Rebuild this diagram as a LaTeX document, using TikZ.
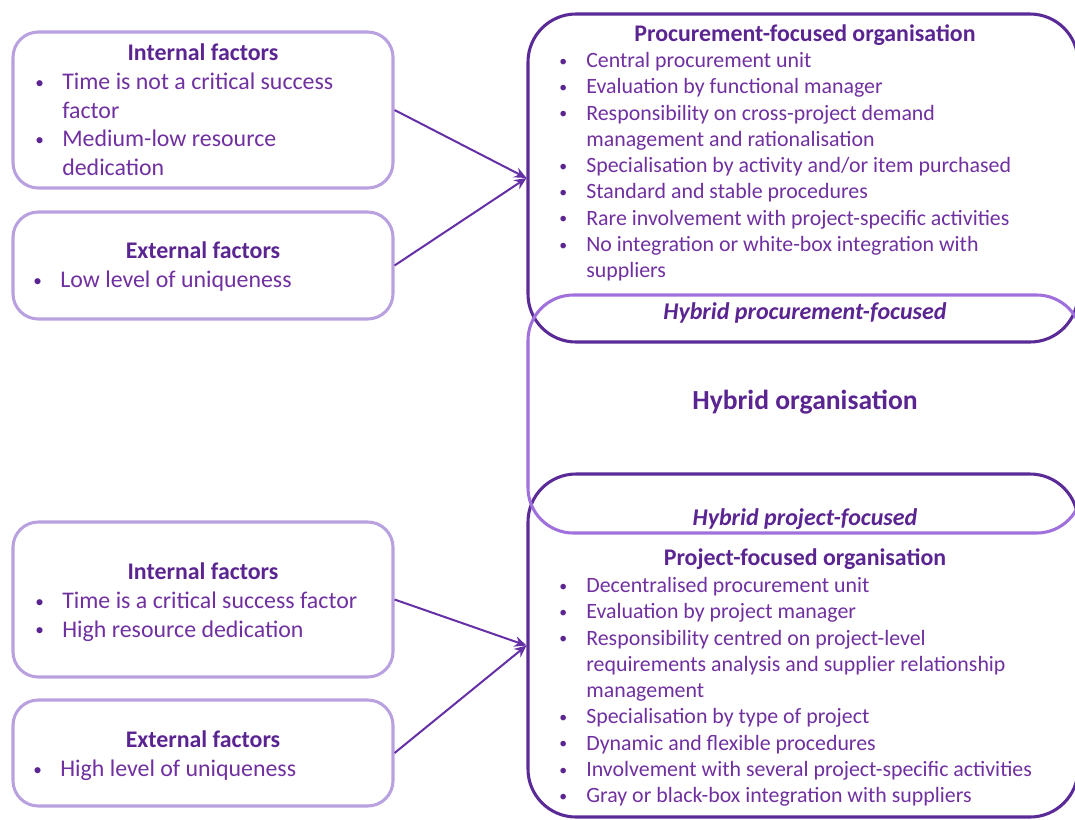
\documentclass[tikz,border=0pt]{standalone}
\usepackage{fontspec}
\setmainfont{Carlito}
\usetikzlibrary{arrows.meta}

\definecolor{darkedge}{HTML}{5A2A96}
\definecolor{lightedge}{HTML}{A070DC}
\definecolor{paleedge}{HTML}{B9A1E0}
\definecolor{bodytext}{HTML}{7030A0}
\definecolor{headtext}{HTML}{5B2591}
\definecolor{arrowcol}{HTML}{6530A5}

% small dark list bullet
\newcommand{\bl}{\textcolor{headtext}{\raisebox{0.06em}{\scalebox{0.72}{\textbullet}}}}

\tikzset{
  orgbox/.style={draw=darkedge, line width=2.3pt, rounded corners=36pt, inner sep=0pt},
  hybridbox/.style={draw=lightedge, line width=2.3pt, rounded corners=34pt, inner sep=0pt},
  factorbox/.style={draw=paleedge, line width=2.3pt, rounded corners=19pt,
    minimum width=285pt, inner sep=0pt},
  heading/.style={text=headtext, inner sep=0pt, anchor=base,
    font=\bfseries\fontsize{17.9}{21}\selectfont},
  hybridlabel/.style={text=headtext, inner sep=0pt, anchor=base,
    font=\bfseries\itshape\fontsize{18}{21}\selectfont},
  factorhead/.style={text=headtext, inner sep=0pt, anchor=base,
    font=\bfseries\fontsize{17.9}{21}\selectfont},
  orglist/.style={text=bodytext, inner sep=0pt, anchor=base west,
    font=\fontsize{16.4}{19.7}\selectfont},
  factorlist/.style={text=bodytext, inner sep=0pt, anchor=base west,
    font=\fontsize{17.9}{21.4}\selectfont},
  link/.style={draw=arrowcol, line width=1.5pt, -{Stealth[length=9pt,width=8pt]}}
}

\begin{document}
\begin{tikzpicture}[x=0.75pt,y=-0.75pt]
\useasboundingbox (0,0) rectangle (1075,819);
\clip (0,0) rectangle (1075,819);

% organisation frames on the right
\node[orgbox, minimum width=412.5pt, minimum height=246pt] (procbox) at (803,178) {};
\node[orgbox, minimum width=412.5pt, minimum height=257.25pt] (projbox) at (803,645.5) {};
\node[hybridbox, minimum width=415.5pt, minimum height=178.5pt] (hybbox) at (805,414) {};

% factor frames on the left
\node[factorbox, minimum height=117pt] (int1) at (203,110) {};
\node[factorbox, minimum height=80.25pt] (ext1) at (203,265.5) {};
\node[factorbox, minimum height=116.25pt] (int2) at (203,599.5) {};
\node[factorbox, minimum height=79.5pt] (ext2) at (203,753) {};

% procurement-focused organisation
\node[heading] (proctitle) at (805,41.5) {Procurement-focused organisation};
\node[orglist] (proclist) at (559,67.5) {\begin{tabular}[t]{@{}p{20.3pt}@{}l@{}}
\bl & Central procurement unit\\
\bl & Evaluation by functional manager\\
\bl & Responsibility on cross-project demand\\
    & management and rationalisation\\
\bl & Specialisation by activity and/or item purchased\\
\bl & Standard and stable procedures\\
\bl & Rare involvement with project-specific activities\\
\bl & No integration or white-box integration with\\
    & suppliers
\end{tabular}};

% hybrid organisation
\node[hybridlabel] (hybproc) at (805,319.5) {Hybrid procurement-focused};
\node[heading, font=\bfseries\fontsize{20.7}{24}\selectfont] (hybtitle) at (805,409.5) {Hybrid organisation};
\node[hybridlabel] (hybproj) at (805,525.5) {Hybrid project-focused};

% project-focused organisation
\node[heading] (projtitle) at (805,565.5) {Project-focused organisation};
\node[orglist] (projlist) at (559,592.5) {\begin{tabular}[t]{@{}p{20.3pt}@{}l@{}}
\bl & Decentralised procurement unit\\
\bl & Evaluation by project manager\\
\bl & Responsibility centred on project-level\\
    & requirements analysis and supplier relationship\\
    & management\\
\bl & Specialisation by type of project\\
\bl & Dynamic and flexible procedures\\
\bl & Involvement with several project-specific activities\\
\bl & Gray or black-box integration with suppliers
\end{tabular}};

% factor texts
\node[factorhead] (int1head) at (203,60.5) {Internal factors};
\node[factorlist] (int1list) at (35,89.5) {\begin{tabular}[t]{@{}p{20.3pt}@{}l@{}}
\bl & Time is not a critical success\\
    & factor\\
\bl & Medium-low resource\\
    & dedication
\end{tabular}};

\node[factorhead] (ext1head) at (203,258.5) {External factors};
\node[factorlist] (ext1list) at (33,287.5) {\begin{tabular}[t]{@{}p{20.3pt}@{}l@{}}
\bl & Low level of uniqueness
\end{tabular}};

\node[factorhead] (int2head) at (203,579.5) {Internal factors};
\node[factorlist] (int2list) at (35,608.5) {\begin{tabular}[t]{@{}p{20.3pt}@{}l@{}}
\bl & Time is a critical success factor\\
\bl & High resource dedication
\end{tabular}};

\node[factorhead] (ext2head) at (203,747.5) {External factors};
\node[factorlist] (ext2list) at (33,776.5) {\begin{tabular}[t]{@{}p{20.3pt}@{}l@{}}
\bl & High level of uniqueness
\end{tabular}};

% connectors
\draw[link] (int1.east) -- (procbox.west);
\draw[link] (ext1.east) -- (procbox.west);
\draw[link] (int2.east) -- (projbox.west);
\draw[link] (ext2.east) -- (projbox.west);
\end{tikzpicture}
\end{document}
